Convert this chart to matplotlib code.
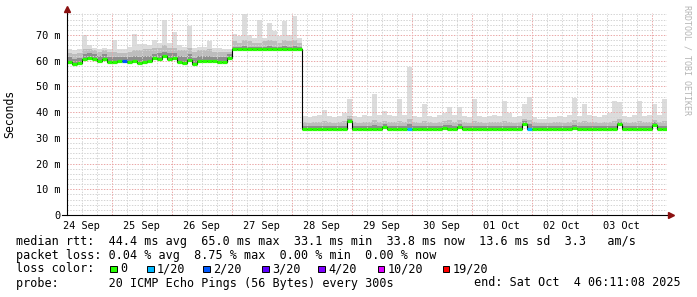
import numpy as np
import matplotlib
matplotlib.use("Agg")
import matplotlib.pyplot as plt
import matplotlib.dates as mdates
from matplotlib.patches import Rectangle
from matplotlib.lines import Line2D

# --- data (2 hour bins, values in ms) ---
start = np.datetime64("2025-09-24T06:11:08")
end = np.datetime64("2025-10-04T06:11:08")

median = [
    59.6, 58.8, 59.0, 60.6, 61.2, 60.6, 59.9, 60.6, 59.6, 59.4,
    59.9, 59.9, 59.4, 60.0, 59.1, 59.6, 59.7, 60.9, 60.6, 61.9,
    60.6, 61.1, 59.6, 59.1, 60.2, 58.9, 59.9, 59.9, 59.9, 59.7,
    59.4, 59.6, 60.9, 64.6, 64.5, 64.6, 64.5, 64.6, 64.6, 64.5,
    64.6, 64.6, 64.5, 64.6, 64.6, 64.5, 64.6, 33.4, 33.3, 33.4,
    33.4, 33.3, 33.4, 33.4, 33.3, 33.4, 36.5, 33.4, 33.3, 33.4,
    33.4, 33.4, 33.3, 34.2, 33.4, 33.4, 33.3, 33.4, 33.5, 33.4,
    33.3, 33.4, 33.4, 33.3, 33.4, 34.0, 33.4, 33.4, 34.3, 33.4,
    33.3, 33.4, 33.4, 33.3, 33.4, 33.4, 33.3, 33.4, 33.4, 33.3,
    33.4, 35.5, 33.6, 33.4, 33.3, 33.4, 33.3, 33.4, 33.4, 33.3,
    33.4, 34.0, 33.4, 33.4, 33.3, 33.4, 33.4, 33.3, 33.4, 33.4,
    35.3, 33.4, 33.3, 33.4, 33.4, 33.3, 33.4, 35.0, 33.4, 33.5,
]

smoke_dark = [
    61.5, 60.5, 61.0, 62.5, 63.0, 62.5, 62.0, 62.5, 61.5, 61.5,
    61.5, 61.5, 61.5, 62.0, 61.5, 62.0, 62.0, 62.5, 63.0, 63.5,
    63.0, 63.0, 62.0, 61.5, 62.5, 61.0, 62.0, 62.0, 62.0, 61.5,
    61.5, 61.5, 62.5, 65.5, 65.5, 65.8, 65.5, 65.5, 65.5, 65.5,
    65.8, 65.5, 65.5, 65.8, 65.5, 65.8, 65.5, 34.6, 34.5, 34.5,
    34.6, 34.8, 34.5, 34.5, 34.5, 34.8, 37.5, 34.6, 34.5, 34.5,
    34.6, 35.0, 34.6, 35.2, 34.8, 34.6, 34.8, 34.6, 35.5, 34.6,
    34.5, 34.8, 34.6, 34.5, 34.6, 35.0, 35.0, 34.6, 35.2, 34.6,
    34.5, 34.8, 34.6, 34.5, 34.5, 34.6, 34.5, 34.8, 34.6, 34.5,
    34.6, 36.5, 35.5, 34.6, 34.5, 34.5, 34.5, 34.5, 34.6, 34.5,
    34.6, 35.0, 34.6, 34.8, 34.5, 34.6, 34.5, 34.5, 34.6, 34.8,
    36.2, 34.6, 34.5, 34.6, 34.8, 34.6, 34.6, 36.0, 34.6, 34.8,
]

smoke_mid = [
    63.0, 62.5, 63.0, 64.5, 64.5, 64.0, 63.5, 64.0, 63.5, 63.5,
    63.0, 63.0, 63.5, 64.0, 64.0, 64.5, 64.5, 65.0, 65.0, 66.0,
    65.0, 65.0, 64.0, 64.0, 65.0, 63.5, 64.0, 64.0, 64.5, 63.5,
    63.5, 63.5, 63.5, 67.5, 67.0, 68.0, 67.5, 67.0, 67.0, 67.5,
    68.0, 67.5, 67.0, 68.0, 67.5, 68.0, 67.0, 36.0, 35.8, 36.0,
    36.2, 36.5, 36.0, 35.8, 36.0, 36.5, 38.5, 36.0, 35.8, 36.0,
    36.2, 37.0, 36.0, 36.5, 36.2, 36.0, 36.5, 36.0, 37.5, 36.0,
    35.8, 36.5, 36.0, 35.8, 36.0, 36.5, 36.8, 36.0, 36.8, 36.0,
    35.8, 36.5, 36.0, 35.8, 36.0, 36.2, 36.0, 36.5, 36.0, 35.8,
    36.0, 37.5, 37.0, 36.0, 35.8, 35.8, 35.8, 36.0, 36.0, 35.8,
    36.0, 36.8, 36.0, 36.5, 36.0, 36.0, 35.8, 36.0, 36.2, 36.5,
    37.5, 36.0, 35.8, 36.0, 36.5, 36.0, 36.2, 37.0, 36.0, 36.5,
]

smoke_max = [
    64.5, 64.0, 64.5, 70.0, 66.0, 65.0, 64.5, 65.0, 64.5, 68.0,
    64.5, 64.5, 65.5, 70.5, 66.5, 66.5, 66.0, 68.0, 67.0, 76.0,
    67.0, 71.0, 66.0, 65.5, 73.5, 65.0, 65.5, 65.5, 67.5, 65.0,
    65.0, 64.5, 64.5, 70.5, 69.5, 78.0, 70.0, 69.0, 76.0, 69.0,
    74.5, 71.5, 69.5, 75.5, 70.0, 77.5, 69.0, 38.5, 38.0, 38.5,
    39.0, 41.0, 38.5, 38.0, 38.5, 39.5, 45.0, 38.5, 38.0, 39.0,
    38.5, 47.0, 39.0, 40.5, 39.0, 38.5, 45.0, 39.0, 57.5, 38.5,
    38.0, 43.0, 38.5, 38.0, 39.0, 39.5, 42.0, 39.0, 42.0, 38.5,
    38.0, 45.0, 38.5, 38.0, 38.5, 39.0, 38.5, 44.5, 39.5, 38.0,
    38.5, 43.0, 46.0, 38.0, 37.5, 37.5, 38.0, 38.0, 38.5, 38.0,
    39.0, 45.5, 38.5, 43.0, 39.0, 38.5, 38.0, 39.0, 39.5, 44.5,
    44.0, 38.5, 38.0, 39.0, 44.5, 38.5, 39.0, 43.0, 39.0, 45.0,
]

# bins with packet loss (n lost of 20)
loss_bins = [11, 68, 92]
loss_counts = [2, 1, 1]

loss_labels = ["0", "1/20", "2/20", "3/20", "4/20", "10/20", "19/20"]
loss_colors = ["#26ff00", "#00b8ff", "#0059ff", "#5e00ff", "#7e00ff", "#dd00ff", "#ff0000"]

day_labels = ["24 Sep", "25 Sep", "26 Sep", "27 Sep", "28 Sep",
              "29 Sep", "30 Sep", "01 Oct", "02 Oct", "03 Oct"]

y_ticks = [0, 10, 20, 30, 40, 50, 60, 70]
y_labels = ["0", "10 m", "20 m", "30 m", "40 m", "50 m", "60 m", "70 m"]

legend_rows = [
    "median rtt:  44.4 ms avg  65.0 ms max  33.1 ms min  33.8 ms now  13.6 ms sd  3.3   am/s",
    "packet loss: 0.04 % avg  8.75 % max  0.00 % min  0.00 % now",
    "loss color:",
    "probe:       20 ICMP Echo Pings (56 Bytes) every 300s",
]
end_text = "end: Sat Oct  4 06:11:08 2025"

# --- figure ---
W, H = 697, 297
MONO = "DejaVu Sans Mono"
GRID_MINOR = "#d4d4d4"
GRID_MAJOR = "#eaa8a8"
LEG_SIZE = 8.5


def fx(px):
    return px / W


def fy(py):
    return 1 - py / H


fig = plt.figure(figsize=(W / 100, H / 100), dpi=100, facecolor="white")
ax = fig.add_axes([fx(67), fy(215), 600 / W, (215 - 13) / H])
ax.set_facecolor("white")

edges = mdates.date2num(start + np.arange(len(median) + 1) * np.timedelta64(2, "h"))
med = np.array(median)

# smoke
ax.stairs(smoke_max, edges, baseline=med, fill=True, color="#dcdcdc", lw=0, zorder=1)
ax.stairs(smoke_mid, edges, baseline=med, fill=True, color="#bdbdbd", lw=0, zorder=1.1)
ax.stairs(smoke_dark, edges, baseline=med, fill=True, color="#8e8e8e", lw=0, zorder=1.2)

# grid (drawn over the smoke like rrdtool does)
ymax = (215 - 13) / (180 / 70)
for v in np.arange(2, ymax, 2):
    major = int(round(v)) % 10 == 0
    ax.axhline(v, color=GRID_MAJOR if major else GRID_MINOR, lw=0.72,
               ls=(0, (1.4, 1.4)), zorder=2)
grid_t = np.arange(np.datetime64("2025-09-24T12:00"), end, np.timedelta64(6, "h"))
for t in grid_t:
    major = (t - t.astype("datetime64[D]")) == np.timedelta64(0, "h")
    ax.axvline(mdates.date2num(t), color=GRID_MAJOR if major else GRID_MINOR,
               lw=0.72, ls=(0, (1.4, 1.4)), zorder=2)

# median line: thin black steps, loss coloured segments on top
ax.stairs(med, edges, baseline=None, color="#000000", lw=0.8, zorder=3)
seg_colors = [loss_colors[0]] * len(median)
for b, n in zip(loss_bins, loss_counts):
    seg_colors[b] = loss_colors[n]
ax.hlines(med, edges[:-1], edges[1:], colors=seg_colors, lw=2.3, zorder=4,
          capstyle="butt")

ax.set_xlim(edges[0], edges[-1])
ax.set_ylim(0, ymax)
for s in ax.spines.values():
    s.set_visible(False)

noons = mdates.date2num(np.datetime64("2025-09-24T12:00") + np.arange(len(day_labels)) * np.timedelta64(1, "D"))
ax.set_xticks(noons)
ax.set_xticklabels(day_labels, family=MONO, fontsize=7.4)
ax.set_yticks(y_ticks)
ax.set_yticklabels(y_labels, family=MONO, fontsize=7.4)
ax.tick_params(axis="both", length=0)
ax.tick_params(axis="x", pad=4.5)
ax.tick_params(axis="y", pad=5)

# axes with arrow heads
arrow_c = "#8b1010"
fig.add_artist(Line2D([fx(67), fx(67)], [fy(215), fy(10)], color="black", lw=0.8))
fig.add_artist(Line2D([fx(62), fx(671)], [fy(215), fy(215)], color="black", lw=0.8))
fig.add_artist(Line2D([fx(67)], [fy(9)], marker="^", ms=4, color=arrow_c, mec=arrow_c))
fig.add_artist(Line2D([fx(671)], [fy(215)], marker=">", ms=4, color=arrow_c, mec=arrow_c))

fig.text(fx(10), fy(113.5), "Seconds", rotation=90, ha="center", va="center",
         family=MONO, fontsize=8.3)
fig.text(fx(687.5), fy(60), "RRDTOOL / TOBI OETIKER", rotation=-90, ha="center",
         va="center", family=MONO, fontsize=6, color="#b4b4b4")

# legend rows
row_y = [241, 255, 269, 283]
for txt, yy in zip(legend_rows, row_y):
    fig.text(fx(16), fy(yy), txt, ha="left", va="center", family=MONO, fontsize=LEG_SIZE)
fig.text(fx(681), fy(283), end_text, ha="right", va="center", family=MONO, fontsize=LEG_SIZE)

box_x = [110, 147, 203, 262, 318, 378, 443]
for bx, lab, col in zip(box_x, loss_labels, loss_colors):
    fig.add_artist(Rectangle((fx(bx), fy(272)), 6.5 / W, 6.5 / H, facecolor=col,
                             edgecolor="black", lw=0.7))
    fig.text(fx(bx + 10), fy(269), lab, ha="left", va="center", family=MONO, fontsize=LEG_SIZE)

fig.savefig("out.png", dpi=100, facecolor="white")
